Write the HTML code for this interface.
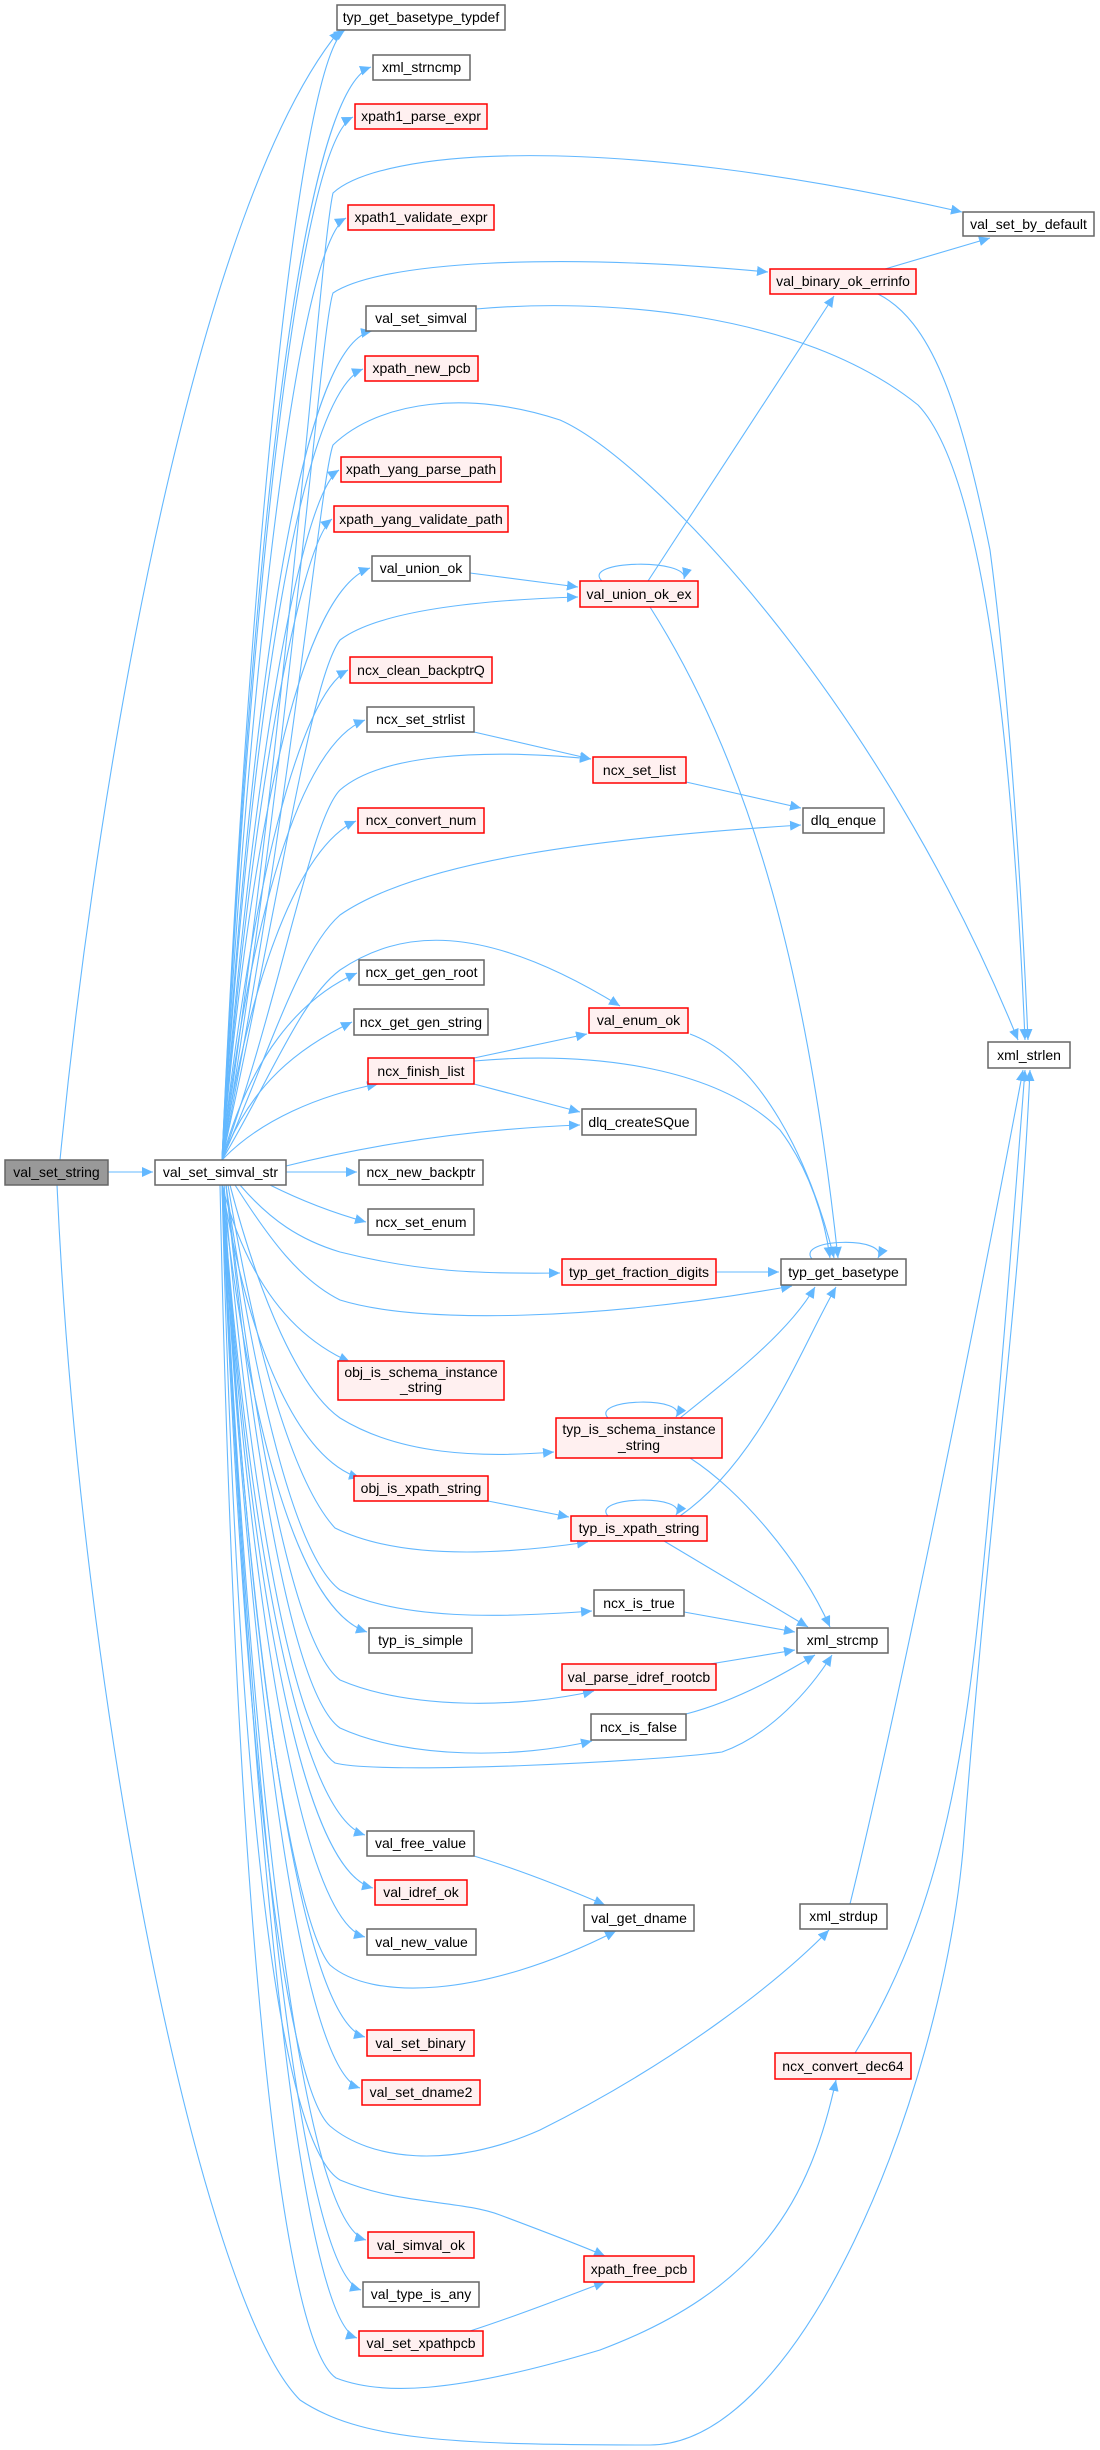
<!DOCTYPE html>
<html><head><meta charset="utf-8"><style>
html,body{margin:0;padding:0;background:#fff;}
svg{display:block;}
text{font-family:"Liberation Sans",Arial,sans-serif;font-size:14px;fill:#000;}
.e{fill:none;stroke:#63b8ff;stroke-width:1.1;marker-end:url(#a);}
.n{fill:#fff;stroke:#666;stroke-width:1.5;}
.r{fill:#fff0f0;stroke:#ff0000;stroke-width:1.5;}
.g{fill:#999;stroke:#666;stroke-width:1.5;}
</style></head><body>
<svg width="1100" height="2450" viewBox="0 0 1100 2450" xmlns="http://www.w3.org/2000/svg">
<defs><marker id="a" markerUnits="userSpaceOnUse" markerWidth="12" markerHeight="10" refX="11" refY="5" orient="auto"><path d="M0,0 L11,5 L0,10 z" fill="#63b8ff"/></marker></defs>

<!-- edges -->
<path class="e" d="M108 1172 L153 1172"/>
<path class="e" d="M60 1160 C100 750 200 200 340 30"/>
<path class="e" d="M57 1185 C80 1700 200 2300 300 2400 C360 2440 450 2445 650 2445 C800 2445 940 2100 963 1850 C990 1500 1020 1300 1030 1070"/>

<path class="e" d="M222 1160 C250 537 300 60 345 30"/>
<path class="e" d="M222 1160 C250 559 300 92 371 67"/>
<path class="e" d="M222 1160 C250 586 300 142 353 117"/>
<path class="e" d="M222 1160 C250 642 300 243 346 218"/>
<path class="e" d="M222 1160 C250 697 300 344 372 331"/>
<path class="e" d="M222 1160 C250 725 300 394 363 369"/>
<path class="e" d="M222 1160 C250 780 300 495 339 470"/>
<path class="e" d="M222 1160 C250 807 300 544 332 519"/>
<path class="e" d="M222 1160 C250 834 300 593 370 568"/>
<path class="e" d="M222 1160 C250 890 300 695 348 670"/>
<path class="e" d="M222 1160 C250 918 300 745 365 720"/>
<path class="e" d="M222 1160 C250 974 300 846 356 821"/>
<path class="e" d="M222 1160 C250 1057 300 998 357 973"/>
<path class="e" d="M222 1160 C250 1084 300 1047 352 1022"/>
<path class="e" d="M222 1160 C260 1120 320 1095 378 1084"/>
<path class="e" d="M286 1172 L357 1172"/>
<path class="e" d="M270 1185 C300 1200 330 1212 366 1222"/>
<path class="e" d="M222 1185 C250 1292 300 1340 350 1362"/>
<path class="e" d="M222 1185 C250 1352 300 1460 360 1478"/>
<path class="e" d="M222 1185 C250 1435 300 1610 367 1632"/>
<path class="e" d="M222 1185 C250 1547 300 1815 365 1835"/>
<path class="e" d="M222 1185 C250 1574 300 1870 373 1888"/>
<path class="e" d="M222 1185 C250 1601 300 1920 365 1937"/>
<path class="e" d="M222 1185 C250 1657 300 2020 365 2037"/>
<path class="e" d="M222 1185 C250 1684 300 2070 360 2088"/>
<path class="e" d="M222 1185 C250 1768 300 2222 366 2240"/>
<path class="e" d="M222 1185 C250 1795 300 2272 361 2290"/>
<path class="e" d="M222 1185 C250 1822 300 2320 357 2338"/>

<path class="e" d="M222 1160 C290 700 320 250 333 193 C380 150 600 130 962 212"/>
<path class="e" d="M222 1160 C290 760 320 330 333 293 C380 262 550 252 768 272"/>
<path class="e" d="M222 1160 C290 820 320 480 333 445 C380 400 470 390 560 420 C650 460 880 700 1018 1040"/>
<path class="e" d="M476 309 C600 298 800 310 918 405 C990 480 1015 800 1025 1040"/>
<path class="e" d="M878 294 C930 320 960 400 990 550 C1010 700 1022 900 1028 1040"/>
<path class="e" d="M885 269 L990 238"/>
<path class="e" d="M222 1160 C280 900 310 680 340 640 C380 610 480 600 578 597"/>
<path class="e" d="M470 573 L578 587"/>
<path class="e" d="M648 581 C700 500 780 380 834 296"/>
<path class="e" d="M602 581 C580 560 690 558 684 579"/>
<path class="e" d="M650 607 C760 780 810 1000 838 1258"/>
<path class="e" d="M222 1160 C280 1000 310 820 340 790 C380 755 480 748 591 759"/>
<path class="e" d="M474 732 L591 759"/>
<path class="e" d="M686 782 L801 808"/>
<path class="e" d="M222 1160 C270 1050 300 950 340 915 C420 860 600 838 801 825"/>
<path class="e" d="M222 1160 C270 1080 300 1000 340 970 C400 930 480 920 620 1006"/>
<path class="e" d="M474 1058 L587 1034"/>
<path class="e" d="M474 1084 L580 1112"/>
<path class="e" d="M474 1061 C600 1050 720 1070 780 1130 C810 1170 825 1220 830 1258"/>
<path class="e" d="M690 1034 C760 1060 810 1160 834 1258"/>
<path class="e" d="M286 1166 C350 1150 450 1130 580 1125"/>
<path class="e" d="M240 1185 C270 1220 300 1240 340 1252 C420 1272 480 1274 560 1273"/>
<path class="e" d="M716 1272 L779 1272"/>
<path class="e" d="M235 1185 C270 1240 300 1280 340 1300 C420 1325 600 1320 792 1286"/>
<path class="e" d="M812 1259 C795 1238 890 1236 878 1258"/>
<path class="e" d="M230 1185 C260 1300 300 1390 340 1418 C400 1455 480 1458 554 1452"/>
<path class="e" d="M608 1418 C590 1398 690 1396 676 1417"/>
<path class="e" d="M680 1418 C740 1370 790 1330 815 1287"/>
<path class="e" d="M690 1458 C740 1490 800 1560 830 1627"/>
<path class="e" d="M488 1501 L569 1517"/>
<path class="e" d="M228 1185 C260 1380 300 1490 335 1528 C400 1560 500 1555 588 1542"/>
<path class="e" d="M608 1516 C590 1496 690 1494 676 1515"/>
<path class="e" d="M680 1516 C760 1460 800 1350 836 1287"/>
<path class="e" d="M664 1541 L808 1627"/>
<path class="e" d="M226 1185 C260 1420 300 1560 340 1590 C400 1620 500 1618 592 1611"/>
<path class="e" d="M684 1612 L795 1632"/>
<path class="e" d="M226 1185 C260 1480 300 1650 340 1680 C410 1710 520 1708 594 1691"/>
<path class="e" d="M710 1664 L795 1650"/>
<path class="e" d="M226 1185 C260 1520 300 1700 340 1728 C410 1760 520 1758 592 1741"/>
<path class="e" d="M686 1714 C740 1700 790 1670 815 1655"/>
<path class="e" d="M224 1185 C255 1550 300 1740 335 1763 C380 1775 650 1762 722 1752 C770 1735 810 1690 832 1655"/>
<path class="e" d="M474 1856 C520 1870 570 1890 605 1905"/>
<path class="e" d="M224 1185 C250 1700 300 1930 330 1965 C370 2000 480 2000 616 1931"/>
<path class="e" d="M222 1185 C245 1800 290 2090 330 2126 C370 2160 450 2170 540 2130 C680 2060 780 1980 829 1930"/>
<path class="e" d="M850 1904 C900 1700 980 1300 1023 1070"/>
<path class="e" d="M222 1185 C240 1900 290 2150 340 2180 C400 2205 460 2200 500 2215 C540 2230 580 2245 605 2256"/>
<path class="e" d="M470 2331 C520 2315 570 2295 605 2282"/>
<path class="e" d="M220 1185 C235 1900 280 2340 336 2378 C380 2395 450 2395 600 2350 C760 2290 810 2200 836 2080"/>
<path class="e" d="M855 2053 C930 1930 960 1800 980 1600 C1000 1400 1015 1200 1025 1070"/>

<!-- nodes -->
<rect class="g" x="5" y="1160" width="103" height="25"/><text x="56.5" y="1177" text-anchor="middle">val_set_string</text>
<rect class="n" x="155" y="1160" width="131" height="25"/><text x="220.5" y="1177" text-anchor="middle">val_set_simval_str</text>

<rect class="n" x="337" y="5" width="168" height="25"/><text x="421" y="22" text-anchor="middle">typ_get_basetype_typdef</text>
<rect class="n" x="373" y="55" width="97" height="25"/><text x="421.5" y="72" text-anchor="middle">xml_strncmp</text>
<rect class="r" x="355" y="104" width="132" height="25"/><text x="421" y="121" text-anchor="middle">xpath1_parse_expr</text>
<rect class="r" x="348" y="205" width="146" height="25"/><text x="421" y="222" text-anchor="middle">xpath1_validate_expr</text>
<rect class="n" x="366" y="306" width="110" height="25"/><text x="421" y="323" text-anchor="middle">val_set_simval</text>
<rect class="r" x="365" y="356" width="113" height="25"/><text x="421.5" y="373" text-anchor="middle">xpath_new_pcb</text>
<rect class="r" x="341" y="457" width="160" height="25"/><text x="421" y="474" text-anchor="middle">xpath_yang_parse_path</text>
<rect class="r" x="334" y="506" width="174" height="26"/><text x="421" y="524" text-anchor="middle">xpath_yang_validate_path</text>
<rect class="n" x="372" y="556" width="98" height="25"/><text x="421" y="573" text-anchor="middle">val_union_ok</text>
<rect class="r" x="350" y="657" width="142" height="26"/><text x="421" y="675" text-anchor="middle">ncx_clean_backptrQ</text>
<rect class="n" x="367" y="707" width="107" height="25"/><text x="420.5" y="724" text-anchor="middle">ncx_set_strlist</text>
<rect class="r" x="358" y="808" width="126" height="25"/><text x="421" y="825" text-anchor="middle">ncx_convert_num</text>
<rect class="n" x="359" y="960" width="125" height="25"/><text x="421.5" y="977" text-anchor="middle">ncx_get_gen_root</text>
<rect class="n" x="354" y="1009" width="134" height="26"/><text x="421" y="1027" text-anchor="middle">ncx_get_gen_string</text>
<rect class="r" x="368" y="1058" width="106" height="26"/><text x="421" y="1076" text-anchor="middle">ncx_finish_list</text>
<rect class="n" x="359" y="1160" width="124" height="25"/><text x="421" y="1177" text-anchor="middle">ncx_new_backptr</text>
<rect class="n" x="368" y="1209" width="106" height="26"/><text x="421" y="1227" text-anchor="middle">ncx_set_enum</text>
<rect class="r" x="338" y="1361" width="166" height="39"/><text x="421" y="1377" text-anchor="middle">obj_is_schema_instance</text><text x="421" y="1392" text-anchor="middle">_string</text>
<rect class="r" x="354" y="1476" width="134" height="25"/><text x="421" y="1493" text-anchor="middle">obj_is_xpath_string</text>
<rect class="n" x="369" y="1628" width="103" height="25"/><text x="420.5" y="1645" text-anchor="middle">typ_is_simple</text>
<rect class="n" x="367" y="1831" width="107" height="25"/><text x="420.5" y="1848" text-anchor="middle">val_free_value</text>
<rect class="r" x="375" y="1880" width="92" height="25"/><text x="421" y="1897" text-anchor="middle">val_idref_ok</text>
<rect class="n" x="367" y="1929" width="109" height="26"/><text x="421.5" y="1947" text-anchor="middle">val_new_value</text>
<rect class="r" x="367" y="2030" width="107" height="26"/><text x="420.5" y="2048" text-anchor="middle">val_set_binary</text>
<rect class="r" x="362" y="2080" width="118" height="25"/><text x="421" y="2097" text-anchor="middle">val_set_dname2</text>
<rect class="r" x="368" y="2232" width="106" height="26"/><text x="421" y="2250" text-anchor="middle">val_simval_ok</text>
<rect class="n" x="363" y="2282" width="116" height="25"/><text x="421" y="2299" text-anchor="middle">val_type_is_any</text>
<rect class="r" x="359" y="2331" width="124" height="25"/><text x="421" y="2348" text-anchor="middle">val_set_xpathpcb</text>

<rect class="r" x="580" y="581" width="118" height="26"/><text x="639" y="599" text-anchor="middle">val_union_ok_ex</text>
<rect class="r" x="593" y="757" width="93" height="26"/><text x="639.5" y="775" text-anchor="middle">ncx_set_list</text>
<rect class="r" x="589" y="1008" width="99" height="25"/><text x="638.5" y="1025" text-anchor="middle">val_enum_ok</text>
<rect class="n" x="582" y="1109" width="114" height="26"/><text x="639" y="1127" text-anchor="middle">dlq_createSQue</text>
<rect class="r" x="562" y="1259" width="154" height="26"/><text x="639" y="1277" text-anchor="middle">typ_get_fraction_digits</text>
<rect class="r" x="556" y="1418" width="166" height="40"/><text x="639" y="1434" text-anchor="middle">typ_is_schema_instance</text><text x="639" y="1450" text-anchor="middle">_string</text>
<rect class="r" x="571" y="1516" width="136" height="25"/><text x="639" y="1533" text-anchor="middle">typ_is_xpath_string</text>
<rect class="n" x="594" y="1590" width="90" height="26"/><text x="639" y="1608" text-anchor="middle">ncx_is_true</text>
<rect class="r" x="562" y="1664" width="154" height="26"/><text x="639" y="1682" text-anchor="middle">val_parse_idref_rootcb</text>
<rect class="n" x="591" y="1714" width="95" height="26"/><text x="638.5" y="1732" text-anchor="middle">ncx_is_false</text>
<rect class="n" x="584" y="1905" width="110" height="26"/><text x="639" y="1923" text-anchor="middle">val_get_dname</text>
<rect class="r" x="584" y="2256" width="110" height="26"/><text x="639" y="2274" text-anchor="middle">xpath_free_pcb</text>

<rect class="r" x="770" y="269" width="146" height="25"/><text x="843" y="286" text-anchor="middle">val_binary_ok_errinfo</text>
<rect class="n" x="803" y="808" width="81" height="25"/><text x="843.5" y="825" text-anchor="middle">dlq_enque</text>
<rect class="n" x="781" y="1259" width="125" height="26"/><text x="843.5" y="1277" text-anchor="middle">typ_get_basetype</text>
<rect class="n" x="797" y="1628" width="91" height="25"/><text x="842.5" y="1645" text-anchor="middle">xml_strcmp</text>
<rect class="n" x="800" y="1904" width="87" height="25"/><text x="843.5" y="1921" text-anchor="middle">xml_strdup</text>
<rect class="r" x="775" y="2053" width="136" height="26"/><text x="843" y="2071" text-anchor="middle">ncx_convert_dec64</text>

<rect class="n" x="963" y="212" width="131" height="24"/><text x="1028.5" y="229" text-anchor="middle">val_set_by_default</text>
<rect class="n" x="988" y="1042" width="82" height="26"/><text x="1029" y="1060" text-anchor="middle">xml_strlen</text>
</svg>
</body></html>
